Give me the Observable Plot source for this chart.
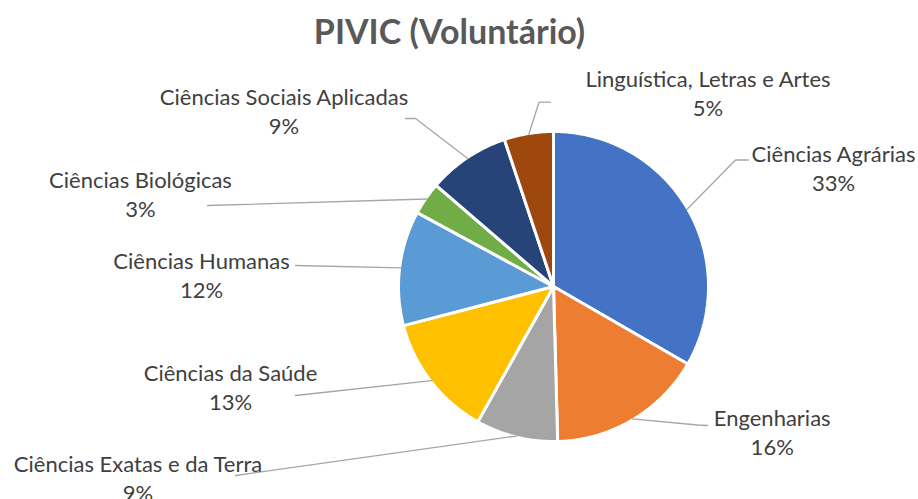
<!DOCTYPE html>
<html><head><meta charset="utf-8">
<script src="https://cdn.jsdelivr.net/npm/d3@7"></script>
<script src="https://cdn.jsdelivr.net/npm/@observablehq/plot@0.6"></script>
<style>body{margin:0;background:#fff}</style>
</head><body><div id="chart"></div>
<script>
// ---- data ----
const title = "PIVIC (Voluntário)";
const categories = ["Ciências Agrárias","Engenharias","Ciências Exatas e da Terra","Ciências da Saúde","Ciências Humanas","Ciências Biológicas","Ciências Sociais Aplicadas","Linguística, Letras e Artes"];
const values = [39, 19, 10, 15, 14, 4, 10, 6];
const colors = ["#4472C4","#ED7D31","#A5A5A5","#FFC000","#5B9BD5","#70AD47","#264478","#9E480E"];

// ---- layout (pixels) ----
const W = 918, H = 499, cx = 553, cy = 286, R = 155;
const labelAt = [[833,190],[771.7,454],[137.5,500],[230,409.5],[201,297],[140,216.5],[283.5,133.5],[707.5,115]];
const leaderFrom = [
  [[748,159.5],[735,159.5]],
  [[707,425],[697,424.5]],
  [[235,475]],
  [[295,395]],
  [[295,265]],
  [[207,205]],
  [[405,118],[415,118]],
  [[550,101.7],[538.5,101.7]]
];

const total = d3.sum(values);
const arcs = d3.pie().sort(null).startAngle(0).endAngle(2 * Math.PI)(values);
const pt = (a, r = R) => ({x: cx + r * Math.sin(a), y: cy - r * Math.cos(a)});

const slicePts = [];
arcs.forEach((a, i) => {
  const name = categories[i];
  slicePts.push({name, x: cx, y: cy});
  const n = Math.max(2, Math.ceil((a.endAngle - a.startAngle) / 0.01));
  for (let k = 0; k <= n; k++) {
    const t = a.startAngle + (a.endAngle - a.startAngle) * k / n;
    slicePts.push({name, ...pt(t)});
  }
});

const leaderPts = [];
arcs.forEach((a, i) => {
  const name = categories[i];
  leaderFrom[i].forEach(([x, y]) => leaderPts.push({name, x, y}));
  leaderPts.push({name, ...pt((a.startAngle + a.endAngle) / 2, R - 1)});
});

const labels = categories.map((c, i) => ({
  x: labelAt[i][0], y: labelAt[i][1],
  text: c + "\n" + Math.round(values[i] / total * 100) + "%"
}));

const chart = Plot.plot({
  width: W, height: H, margin: 0,
  x: {domain: [0, W], range: [0, W], axis: null},
  y: {domain: [0, H], range: [0, H], axis: null},
  color: {domain: categories, range: colors},
  style: {fontFamily: "Lato, sans-serif", background: "#fff"},
  marks: [
    Plot.line(slicePts, {x: "x", y: "y", z: "name", fill: "name", stroke: "#fff", strokeWidth: 3, curve: "linear-closed", strokeLinejoin: "miter"}),
    Plot.line(leaderPts, {x: "x", y: "y", z: "name", stroke: "#A6A6A6", strokeWidth: 1.3}),
    Plot.text(labels, {x: "x", y: "y", text: "text", lineAnchor: "bottom", lineHeight: 1.3, fontSize: 22, fill: "#404040", textAnchor: "middle"}),
    Plot.text([title], {frameAnchor: "top", dx: -10, dy: 43, lineAnchor: "bottom", fontSize: 34, fontWeight: "bold", fill: "#595959"})
  ]
});
document.getElementById("chart").append(chart);
</script>
</body></html>
